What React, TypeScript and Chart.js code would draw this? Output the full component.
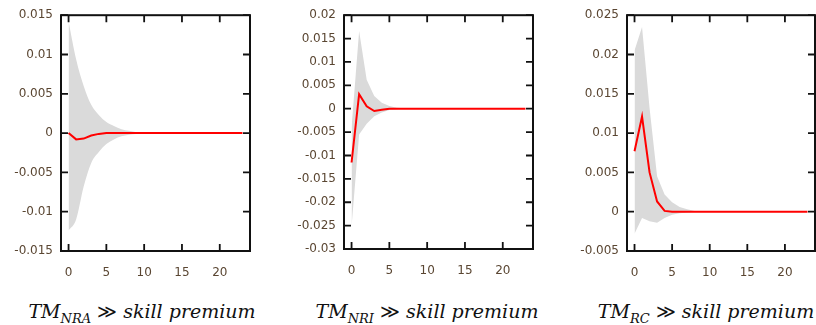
import React, { useEffect, useRef } from "react";
import { Chart, registerables } from "chart.js";

Chart.register(...registerables);

// ---------- data ----------
const steps = [0, 1, 2, 3, 4, 5, 6, 7, 8, 9, 10, 11, 12, 13, 14, 15, 16, 17, 18, 19, 20, 21, 22, 23];

const nraLine = [0, -0.0008, -0.0007, -0.0003, -0.0001, 0, 0, 0, 0, 0, 0, 0, 0, 0, 0, 0, 0, 0, 0, 0, 0, 0, 0, 0];
const nraUpper = [0.0142, 0.0094, 0.006, 0.0036, 0.0023, 0.0014, 0.0009, 0.0005, 0.0003, 0.0001, 0, 0, 0, 0, 0, 0, 0, 0, 0, 0, 0, 0, 0, 0];
const nraLower = [-0.0124, -0.011, -0.0068, -0.0038, -0.0024, -0.0014, -0.0008, -0.0004, -0.0002, -0.0001, 0, 0, 0, 0, 0, 0, 0, 0, 0, 0, 0, 0, 0, 0];

const nriLine = [-0.0115, 0.0031, 0.0005, -0.0005, -0.0002, 0, 0, 0, 0, 0, 0, 0, 0, 0, 0, 0, 0, 0, 0, 0, 0, 0, 0, 0];
const nriUpper = [-0.004, 0.0166, 0.0062, 0.0027, 0.0013, 0.0006, 0.0002, 0.0001, 0, 0, 0, 0, 0, 0, 0, 0, 0, 0, 0, 0, 0, 0, 0, 0];
const nriLower = [-0.0252, -0.0055, -0.0032, -0.0016, -0.0008, -0.0003, -0.0001, 0, 0, 0, 0, 0, 0, 0, 0, 0, 0, 0, 0, 0, 0, 0, 0, 0];

const rcLine = [0.0077, 0.0121, 0.005, 0.0013, 0.0001, 0, 0, 0, 0, 0, 0, 0, 0, 0, 0, 0, 0, 0, 0, 0, 0, 0, 0, 0];
const rcUpper = [0.0205, 0.0235, 0.0132, 0.0045, 0.0022, 0.0012, 0.0006, 0.0003, 0.0001, 0, 0, 0, 0, 0, 0, 0, 0, 0, 0, 0, 0, 0, 0, 0];
const rcLower = [-0.0028, -0.0008, -0.0012, -0.0014, -0.0008, -0.0004, -0.0002, -0.0001, 0, 0, 0, 0, 0, 0, 0, 0, 0, 0, 0, 0, 0, 0, 0, 0];

const xTicks = [0, 5, 10, 15, 20];
const nraYTicks = [-0.015, -0.01, -0.005, 0, 0.005, 0.01, 0.015];
const nriYTicks = [-0.03, -0.025, -0.02, -0.015, -0.01, -0.005, 0, 0.005, 0.01, 0.015, 0.02];
const rcYTicks = [-0.005, 0, 0.005, 0.01, 0.015, 0.02, 0.025];

const xMin = -1;
const xMax = 24;

// ---------- styles ----------
const BAND = "#dadada";
const LINE = "#ff0000";
const TICK_COLOR = "#5a4632";
const TICK_FONT = { family: "DejaVu Sans", size: 12 };

const framePlugin = {
  id: "frame",
  afterDatasetsDraw(chart: any) {
    const { ctx, chartArea: a, scales } = chart;
    const x = scales.x;
    const y = scales.y;
    const L = 7;
    ctx.save();
    ctx.strokeStyle = "#111";
    ctx.lineWidth = 1.8;
    ctx.beginPath();
    x.ticks.forEach((t: any) => {
      const px = x.getPixelForValue(t.value);
      ctx.moveTo(px, a.bottom);
      ctx.lineTo(px, a.bottom - L);
      ctx.moveTo(px, a.top);
      ctx.lineTo(px, a.top + L);
    });
    y.ticks.forEach((t: any) => {
      const py = y.getPixelForValue(t.value);
      ctx.moveTo(a.left, py);
      ctx.lineTo(a.left + L, py);
      ctx.moveTo(a.right, py);
      ctx.lineTo(a.right - L, py);
    });
    ctx.stroke();
    ctx.lineWidth = 2;
    ctx.strokeRect(a.left, a.top, a.right - a.left, a.bottom - a.top);
    ctx.restore();
  },
};

const fmt = (v: number) => String(Number(v.toFixed(4)));

type PanelProps = {
  left: number;
  width: number;
  height: number;
  area: { left: number; right: number; top: number; bottom: number };
  line: number[];
  upper: number[];
  lower: number[];
  yTicks: number[];
  smooth: boolean;
};

function Panel({ left, width, height, area, line, upper, lower, yTicks, smooth }: PanelProps) {
  const ref = useRef<HTMLCanvasElement>(null);
  useEffect(() => {
    if (!ref.current) return;
    const pts = (arr: number[]) => arr.map((v, i) => ({ x: steps[i], y: v }));
    const mode = smooth ? "monotone" : "default";
    const chart = new Chart(ref.current, {
      type: "line",
      data: {
        datasets: [
          { data: pts(lower), order: 1, borderWidth: 0, pointRadius: 0, fill: false, cubicInterpolationMode: mode, backgroundColor: BAND, borderColor: "rgba(0,0,0,0)" },
          { data: pts(upper), order: 1, borderWidth: 0, pointRadius: 0, fill: "-1", cubicInterpolationMode: mode, backgroundColor: BAND, borderColor: "rgba(0,0,0,0)" },
          { data: pts(line), order: 0, borderWidth: 2, pointRadius: 0, fill: false, borderColor: LINE },
        ],
      } as any,
      options: {
        animation: false,
        responsive: false,
        maintainAspectRatio: false,
        devicePixelRatio: 1,
        layout: { padding: { top: area.top, right: width - area.right, left: 0, bottom: 0 } },
        plugins: { legend: { display: false }, tooltip: { enabled: false }, title: { display: false } },
        scales: {
          x: {
            type: "linear",
            min: xMin,
            max: xMax,
            grid: { display: false, drawTicks: false },
            border: { display: false },
            afterBuildTicks: (s: any) => {
              s.ticks = xTicks.map((v) => ({ value: v }));
            },
            afterFit: (s: any) => {
              s.height = height - area.bottom;
            },
            ticks: { padding: 15, color: TICK_COLOR, font: TICK_FONT, maxRotation: 0, autoSkip: false, callback: (v: any) => fmt(Number(v)) },
          },
          y: {
            type: "linear",
            min: yTicks[0],
            max: yTicks[yTicks.length - 1],
            grid: { display: false, drawTicks: false },
            border: { display: false },
            afterBuildTicks: (s: any) => {
              s.ticks = yTicks.map((v) => ({ value: v }));
            },
            afterFit: (s: any) => {
              s.width = area.left;
            },
            ticks: { padding: 8, color: TICK_COLOR, font: TICK_FONT, autoSkip: false, callback: (v: any) => fmt(Number(v)) },
          },
        },
      } as any,
      plugins: [framePlugin],
    });
    return () => chart.destroy();
  }, []);
  return (
    <canvas
      ref={ref}
      width={width}
      height={height}
      style={{ position: "absolute", left, top: 0, width, height }}
    />
  );
}

function Title({ center, sub }: { center: number; sub: string }) {
  return (
    <div
      style={{
        position: "absolute",
        left: center - 150,
        width: 300,
        top: 302,
        textAlign: "center",
        fontFamily: "'DejaVu Serif'",
        fontStyle: "italic",
        fontSize: 19,
        lineHeight: "19px",
        whiteSpace: "nowrap",
        color: "#111",
      }}
    >
      TM
      <span style={{ fontSize: 13, position: "relative", top: 5 }}>{sub}</span>
      <span style={{ fontStyle: "normal" }}> ≫ </span>
      skill premium
    </div>
  );
}

export default function App() {
  return (
    <div style={{ position: "absolute", left: 0, top: 0, width: 816, height: 325, background: "#fff", overflow: "hidden" }}>
      <Panel left={0} width={272} height={290} area={{ left: 61, right: 250, top: 15, bottom: 251 }} line={nraLine} upper={nraUpper} lower={nraLower} yTicks={nraYTicks} smooth={true} />
      <Panel left={272} width={272} height={290} area={{ left: 72, right: 261, top: 15, bottom: 249 }} line={nriLine} upper={nriUpper} lower={nriLower} yTicks={nriYTicks} smooth={false} />
      <Panel left={544} width={272} height={290} area={{ left: 83, right: 271, top: 15, bottom: 251 }} line={rcLine} upper={rcUpper} lower={rcLower} yTicks={rcYTicks} smooth={false} />
      <Title center={142} sub="NRA" />
      <Title center={427} sub="NRI" />
      <Title center={706} sub="RC" />
    </div>
  );
}
